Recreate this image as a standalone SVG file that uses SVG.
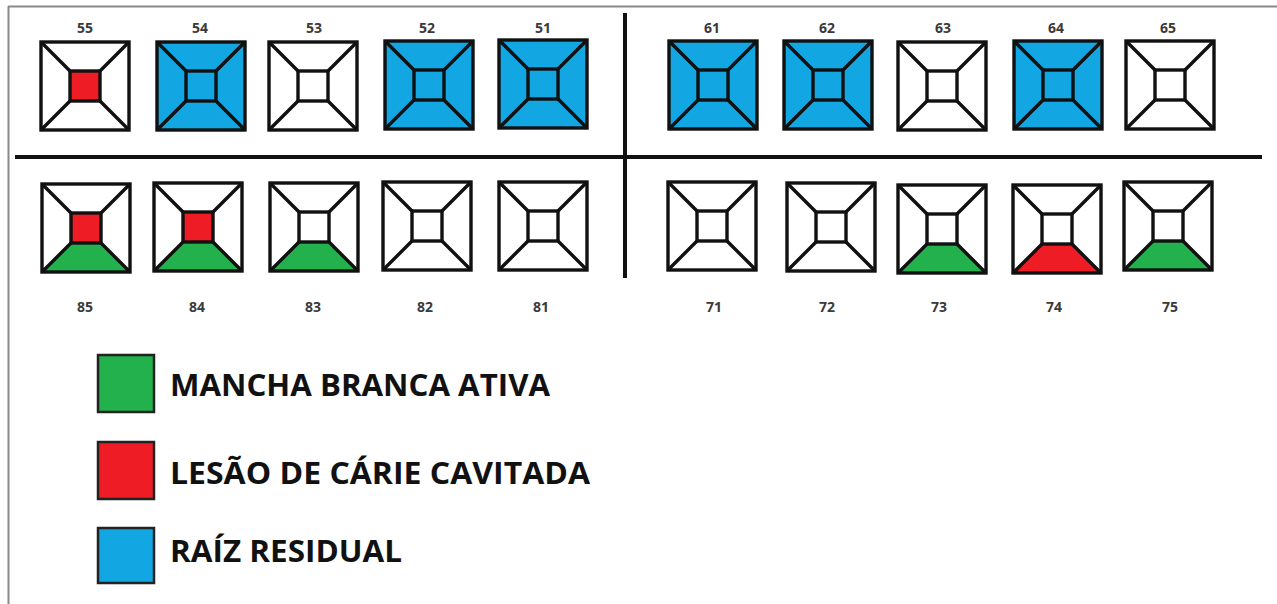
<svg xmlns="http://www.w3.org/2000/svg" xmlns:xlink="http://www.w3.org/1999/xlink" width="1277" height="604" viewBox="0 0 1277 604">
  <style>
    .ln { fill: none; stroke: #111; stroke-width: 3.4; stroke-linejoin: miter; }
    .blue { fill: #12A6E3; }
    .red { fill: #EE1C24; }
    .green { fill: #22B14C; }
    .num { font-family: "Open Sans", "Liberation Sans", sans-serif; font-weight: 700; font-size: 14px; fill: #3a3a3a; text-anchor: middle; }
    .leg { font-family: "Open Sans", "Liberation Sans", sans-serif; font-weight: 700; font-size: 31px; fill: #111; }
    .sw { stroke: #222; stroke-width: 2.5; }
    .div { stroke: #111; stroke-width: 4; }
    .frame { stroke: #8a8a8a; stroke-width: 2; fill: none; }
  </style>
  <defs>
    <g id="frame">
      <rect class="ln" x="0" y="0" width="88" height="88"/>
      <rect class="ln" x="29" y="29" width="30" height="30"/>
      <path class="ln" d="M0 0L29 29M88 0L59 29M0 88L29 59M88 88L59 59"/>
    </g>
    <rect id="fullBlue" class="blue" x="0" y="0" width="88" height="88"/>
    <rect id="centerRed" class="red" x="29" y="29" width="30" height="30"/>
    <polygon id="bottomGreen" class="green" points="0,88 88,88 59,59 29,59"/>
    <polygon id="bottomRed" class="red" points="0,88 88,88 59,59 29,59"/>
  </defs>

  <rect x="0" y="0" width="1277" height="604" fill="#fff"/>
  <path class="frame" d="M8 6.5H1277M8.5 6V604"/>

  <g id="connectors">
    <line class="div" x1="15" y1="157" x2="1262" y2="157"/>
    <line class="div" x1="625" y1="13" x2="625" y2="278"/>
  </g>

  <!-- Upper row -->
  <g id="t55" transform="translate(41,42)"><use xlink:href="#centerRed"/><use xlink:href="#frame"/></g>
  <g id="t54" transform="translate(157,42)"><use xlink:href="#fullBlue"/><use xlink:href="#frame"/></g>
  <g id="t53" transform="translate(269,42)"><use xlink:href="#frame"/></g>
  <g id="t52" transform="translate(385,41)"><use xlink:href="#fullBlue"/><use xlink:href="#frame"/></g>
  <g id="t51" transform="translate(499,40)"><use xlink:href="#fullBlue"/><use xlink:href="#frame"/></g>
  <g id="t61" transform="translate(669,41)"><use xlink:href="#fullBlue"/><use xlink:href="#frame"/></g>
  <g id="t62" transform="translate(784,41)"><use xlink:href="#fullBlue"/><use xlink:href="#frame"/></g>
  <g id="t63" transform="translate(898,42)"><use xlink:href="#frame"/></g>
  <g id="t64" transform="translate(1014,41)"><use xlink:href="#fullBlue"/><use xlink:href="#frame"/></g>
  <g id="t65" transform="translate(1126,41)"><use xlink:href="#frame"/></g>

  <!-- Lower row -->
  <g id="t85" transform="translate(42,184)"><use xlink:href="#centerRed"/><use xlink:href="#bottomGreen"/><use xlink:href="#frame"/></g>
  <g id="t84" transform="translate(154,183)"><use xlink:href="#centerRed"/><use xlink:href="#bottomGreen"/><use xlink:href="#frame"/></g>
  <g id="t83" transform="translate(270,183)"><use xlink:href="#bottomGreen"/><use xlink:href="#frame"/></g>
  <g id="t82" transform="translate(383,182)"><use xlink:href="#frame"/></g>
  <g id="t81" transform="translate(499,182)"><use xlink:href="#frame"/></g>
  <g id="t71" transform="translate(668,182)"><use xlink:href="#frame"/></g>
  <g id="t72" transform="translate(787,183)"><use xlink:href="#frame"/></g>
  <g id="t73" transform="translate(898,185)"><use xlink:href="#bottomGreen"/><use xlink:href="#frame"/></g>
  <g id="t74" transform="translate(1013,185)"><use xlink:href="#bottomRed"/><use xlink:href="#frame"/></g>
  <g id="t75" transform="translate(1124,182)"><use xlink:href="#bottomGreen"/><use xlink:href="#frame"/></g>

  <g id="labels">
    <text class="num" x="85" y="33">55</text>
    <text class="num" x="200" y="33">54</text>
    <text class="num" x="314" y="33">53</text>
    <text class="num" x="427" y="33">52</text>
    <text class="num" x="543" y="33">51</text>
    <text class="num" x="712" y="33">61</text>
    <text class="num" x="827" y="33">62</text>
    <text class="num" x="943" y="33">63</text>
    <text class="num" x="1056" y="33">64</text>
    <text class="num" x="1168" y="33">65</text>
    <text class="num" x="85" y="312">85</text>
    <text class="num" x="197" y="312">84</text>
    <text class="num" x="313" y="312">83</text>
    <text class="num" x="425" y="312">82</text>
    <text class="num" x="541" y="312">81</text>
    <text class="num" x="714" y="312">71</text>
    <text class="num" x="827" y="312">72</text>
    <text class="num" x="939" y="312">73</text>
    <text class="num" x="1054" y="312">74</text>
    <text class="num" x="1170" y="312">75</text>
  </g>

  <g id="legend">
    <g id="leg-green">
      <rect class="green sw" x="98" y="355" width="56" height="57"/>
      <text class="leg" x="170" y="396" textLength="380" lengthAdjust="spacingAndGlyphs">MANCHA BRANCA ATIVA</text>
    </g>
    <g id="leg-red">
      <rect class="red sw" x="98" y="442" width="56" height="57"/>
      <text class="leg" x="170" y="484" textLength="420" lengthAdjust="spacingAndGlyphs">LESÃO DE CÁRIE CAVITADA</text>
    </g>
    <g id="leg-blue">
      <rect class="blue sw" x="98" y="528" width="56" height="55"/>
      <text class="leg" x="170" y="562" textLength="232" lengthAdjust="spacingAndGlyphs">RAÍZ RESIDUAL</text>
    </g>
  </g>
</svg>
